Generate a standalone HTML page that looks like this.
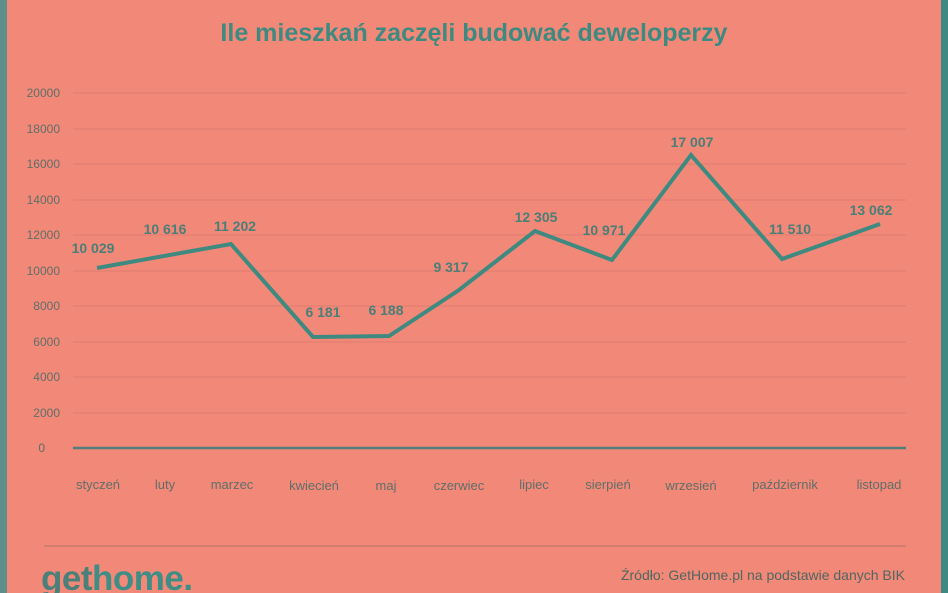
<!DOCTYPE html>
<html><head><meta charset="utf-8"><style>
body{margin:0;width:948px;height:593px;overflow:hidden;background:#F28878;}
svg{display:block}
</style></head><body>
<svg width="948" height="593" xmlns="http://www.w3.org/2000/svg" font-family="Liberation Sans, DejaVu Sans, sans-serif">
<rect width="948" height="593" fill="#F28878"/>
<rect x="0" y="0" width="7" height="593" fill="#5E8F88"/>
<rect x="941" y="0" width="7" height="593" fill="#3E8A82"/>
<text x="474" y="41" text-anchor="middle" font-size="25" font-weight="bold" fill="#3F8A80">Ile mieszkań zaczęli budować deweloperzy</text>
<g stroke="#DC7D70" stroke-width="1">
<line x1="73" y1="93" x2="906" y2="93"/><line x1="73" y1="129" x2="906" y2="129"/>
<line x1="73" y1="164" x2="906" y2="164"/><line x1="73" y1="200" x2="906" y2="200"/>
<line x1="73" y1="235" x2="906" y2="235"/><line x1="73" y1="271" x2="906" y2="271"/>
<line x1="73" y1="306" x2="906" y2="306"/><line x1="73" y1="342" x2="906" y2="342"/>
<line x1="73" y1="377" x2="906" y2="377"/><line x1="73" y1="413" x2="906" y2="413"/>
</g>
<line x1="73" y1="448" x2="906" y2="448" stroke="#4F7F78" stroke-width="2.5"/>
<g font-size="12" fill="#5F6F68" text-anchor="end">
<text x="60" y="97">20000</text><text x="60" y="133">18000</text><text x="60" y="168">16000</text>
<text x="60" y="204">14000</text><text x="60" y="239">12000</text><text x="60" y="275">10000</text>
<text x="60" y="310">8000</text><text x="60" y="346">6000</text><text x="60" y="381">4000</text>
<text x="60" y="417">2000</text><text x="45" y="452">0</text>
</g>
<g font-size="13" fill="#5F6F68" text-anchor="middle">
<text x="98" y="489">styczeń</text><text x="165" y="489">luty</text><text x="232" y="489">marzec</text>
<text x="314" y="490">kwiecień</text><text x="386" y="490">maj</text><text x="459" y="490">czerwiec</text>
<text x="534" y="489">lipiec</text><text x="608" y="489">sierpień</text><text x="691" y="490">wrzesień</text>
<text x="785" y="489">październik</text><text x="879" y="489">listopad</text>
</g>
<polyline points="97,268 231,244 313,337 389,336 459,290 535,231 612,260 691,155 782,259 880,224" fill="none" stroke="#3F8A80" stroke-width="4" stroke-linejoin="miter"/>
<g font-size="14" font-weight="bold" fill="#4A7F77" text-anchor="middle">
<text x="93" y="253">10 029</text><text x="165" y="234">10 616</text><text x="235" y="231">11 202</text>
<text x="323" y="317">6 181</text><text x="386" y="315">6 188</text><text x="451" y="272">9 317</text>
<text x="536" y="222">12 305</text><text x="604" y="235">10 971</text><text x="692" y="147">17 007</text>
<text x="790" y="234">11 510</text><text x="871" y="215">13 062</text>
</g>
<line x1="44" y1="546" x2="906" y2="546" stroke="#B0736A" stroke-width="1"/>
<text x="41" y="590" font-size="35" font-weight="bold" fill="#4A7F7A" letter-spacing="-0.5">get<tspan fill="#3F8E86">home.</tspan></text>
<text x="905" y="580" text-anchor="end" font-size="14" fill="#4F6760">Źródło: GetHome.pl na podstawie danych BIK</text>
</svg>
</body></html>
